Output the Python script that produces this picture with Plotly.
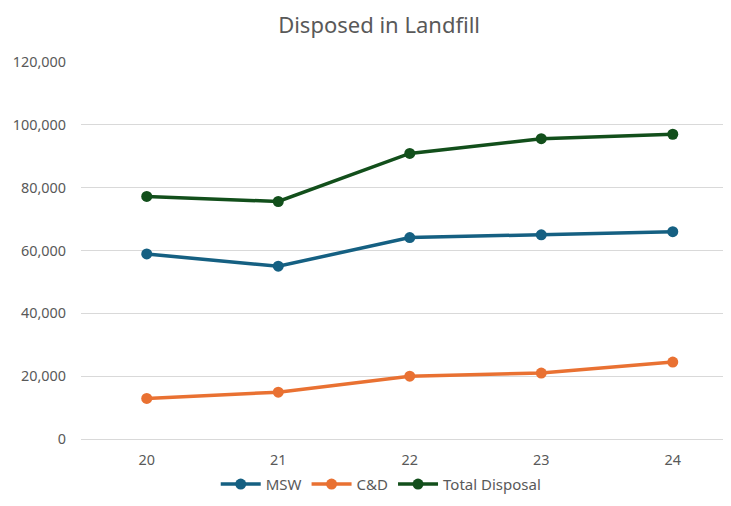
import plotly.graph_objects as go

years = ["20", "21", "22", "23", "24"]
msw = [58900, 55000, 64100, 65000, 66000]
cd = [12900, 14900, 20000, 21000, 24500]
total = [77200, 75600, 90900, 95600, 97000]
y_ticks = [0, 20000, 40000, 60000, 80000, 100000, 120000]

series = [
    ("MSW", msw, "#156082"),
    ("C&D", cd, "#E97132"),
    ("Total Disposal", total, "#124F1B"),
]

xs = list(range(len(years)))
fig = go.Figure()
for name, vals, col in series:
    fig.add_trace(go.Scatter(
        x=xs, y=vals, name=name, mode="lines+markers",
        line=dict(color=col, width=3.5),
        marker=dict(color=col, size=11),
    ))

font = "Noto Sans, Open Sans, sans-serif"
fig.update_layout(
    width=715, height=490,
    margin=dict(l=73, r=0, t=54, b=59, autoexpand=False),
    paper_bgcolor="white", plot_bgcolor="white",
    title=dict(text="Disposed in Landfill", x=0.519, xanchor="center",
               y=0.965, yanchor="middle",
               font=dict(family=font, size=22, color="#595959")),
    font=dict(family=font, size=14.4, color="#595959"),
    showlegend=True,
    legend=dict(orientation="h", xref="container", yref="container",
                x=0.522, xanchor="center", y=0.028, yanchor="middle",
                font=dict(size=15, color="#595959"), tracegroupgap=0,
                itemwidth=40),
    xaxis=dict(
        tickmode="array", tickvals=xs, ticktext=years,
        range=[-0.5, 4.382], showgrid=False, zeroline=False, showline=False,
        ticks="", ticklabelstandoff=11,
    ),
    yaxis=dict(
        range=[0, 120000], tickvals=y_ticks, tickformat=",",
        showgrid=True, gridcolor="#D9D9D9", gridwidth=1,
        zeroline=True, zerolinecolor="#D9D9D9", zerolinewidth=1,
        showline=False, ticks="", ticklabelstandoff=14,
    ),
)

fig.write_html("out.html")
